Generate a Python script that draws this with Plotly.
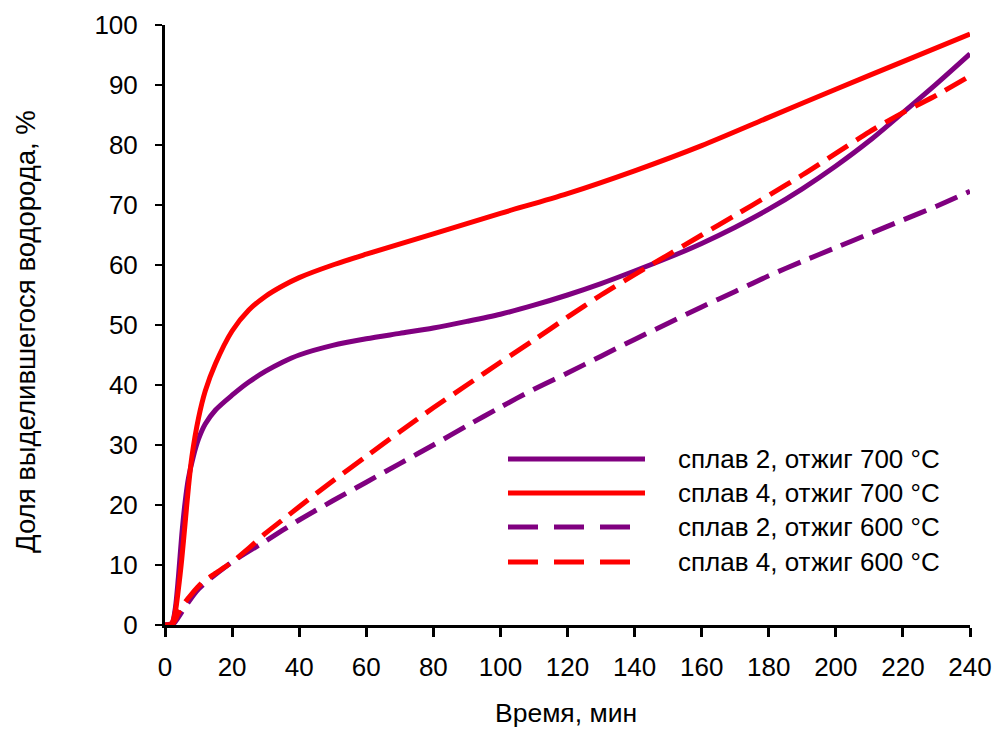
import plotly.graph_objects as go

# ---- data ----
t_s2_700 = [0, 2, 3, 4, 5, 6, 7, 8.4, 10, 12, 15, 20, 25, 30, 35, 40, 50, 60, 70, 80, 90,
            100, 110, 120, 130, 140, 150, 160, 170, 180, 190, 200, 210, 220, 230, 240]
v_s2_700 = [0, 0.2, 2.5, 8, 15, 20.5, 24.5, 28, 31, 33.5, 35.8, 38.3, 40.5, 42.3, 43.8, 45, 46.6, 47.7, 48.6, 49.5, 50.6,
            51.8, 53.3, 55, 56.9, 59, 61.2, 63.6, 66.3, 69.3, 72.7, 76.5, 80.7, 85.4, 90.2, 95.2]

t_s4_700 = [0, 2, 3, 4, 5, 6, 7, 8, 10, 12, 15, 20, 25, 30, 35, 40, 50, 60, 80,
            100, 120, 140, 160, 180, 200, 220, 240]
v_s4_700 = [0, 0.3, 2, 6, 11, 17, 23, 28, 34.5, 39, 43.5, 49, 52.5, 54.8, 56.5, 57.9, 60, 61.8, 65.2,
            68.6, 71.9, 75.7, 79.9, 84.6, 89.3, 93.9, 98.5]

t_s2_600 = [0, 2, 3, 6, 10, 20, 30, 40, 50, 60, 70, 80, 90, 100, 110, 120, 130, 140, 150,
            160, 170, 180, 190, 200, 210, 220, 230, 240]
v_s2_600 = [0, 0, 0.5, 3, 6, 10.5, 14, 17.5, 20.7, 23.8, 26.9, 30, 33.2, 36.3, 39.3, 42, 44.8, 47.6, 50.3,
            53, 55.6, 58.2, 60.6, 62.9, 65.2, 67.5, 69.8, 72.3]

t_s4_600 = [0, 2, 3, 4, 6, 8, 11, 15, 20, 25, 30, 35, 40, 50, 60, 70, 80, 90, 100, 110, 120,
            130, 140, 150, 160, 170, 180, 190, 200, 210, 220, 230, 240]
v_s4_600 = [0, 0, 0.8, 2, 3.8, 5.2, 7, 8.6, 10.5, 12.8, 15.3, 17.5, 19.7, 24, 28.1, 32.2, 36.2, 40, 43.8, 47.5, 51.3,
            55, 58.4, 61.7, 65, 68.3, 71.6, 75, 78.6, 82.2, 85.4, 88.3, 91.5]

names = ["сплав 2, отжиг 700 °C", "сплав 4, отжиг 700 °C",
         "сплав 2, отжиг 600 °C", "сплав 4, отжиг 600 °C"]
x_title = "Время, мин"
y_title = "Доля выделившегося водорода, %"
x_ticks = list(range(0, 241, 20))
y_ticks = list(range(0, 101, 10))

PURPLE = "#800080"
RED = "#FF0000"
FONT = "Arial, Liberation Sans, sans-serif"

series = [
    (t_s2_700, v_s2_700, PURPLE, "solid"),
    (t_s4_700, v_s4_700, RED, "solid"),
    (t_s2_600, v_s2_600, PURPLE, "24px,10px"),
    (t_s4_600, v_s4_600, RED, "24px,10px"),
]

fig = go.Figure()
for (tx, vy, col, dash), nm in zip(series, names):
    fig.add_trace(go.Scatter(x=tx, y=vy, mode="lines", name=nm,
                             line=dict(color=col, width=5, dash=dash, shape="spline", smoothing=0.8),
                             showlegend=False))

W, H = 995, 729
PLOT_L, PLOT_R, PLOT_T, PLOT_B = 165, 970, 25, 625   # window pixels of the plot area
L, T = PLOT_L, PLOT_T
R = W - PLOT_R
B = H - PLOT_B
pw, ph = PLOT_R - PLOT_L, PLOT_B - PLOT_T

def px(xp):
    return (xp - PLOT_L) / pw

def py(yp):
    return (PLOT_B - yp) / ph

# manual legend (long line samples as in the reference)
leg_rows = [459, 493, 527, 562]
shapes = []
annotations = []
for i, ((tx, vy, col, dash), nm) in enumerate(zip(series, names)):
    y = py(leg_rows[i])
    if dash == "solid":
        shapes.append(dict(type="line", xref="paper", yref="paper", x0=px(508), x1=px(645), y0=y, y1=y,
                           line=dict(color=col, width=5)))
    else:
        for s in (508, 554, 600):
            shapes.append(dict(type="line", xref="paper", yref="paper", x0=px(s), x1=px(s + 30), y0=y, y1=y,
                               line=dict(color=col, width=5)))
    annotations.append(dict(xref="paper", yref="paper", x=px(676), y=y, text=nm, showarrow=False,
                            xanchor="left", yanchor="middle", font=dict(family=FONT, size=26, color="black")))

# axis titles
annotations.append(dict(xref="paper", yref="paper", x=px(566), y=py(713), text=x_title, showarrow=False,
                        xanchor="center", yanchor="middle", font=dict(family=FONT, size=26.5, color="black")))
annotations.append(dict(xref="paper", yref="paper", x=px(25), y=py(332), text=y_title, showarrow=False,
                        textangle=-90, xanchor="center", yanchor="middle",
                        font=dict(family=FONT, size=27.5, color="black")))

fig.update_layout(
    width=W, height=H,
    margin=dict(l=L, r=R, t=T, b=B),
    plot_bgcolor="white", paper_bgcolor="white",
    font=dict(family=FONT, size=26, color="black"),
    shapes=shapes, annotations=annotations,
    showlegend=False,
)
fig.update_xaxes(range=[0, 240], tickvals=x_ticks, ticktext=[str(v) for v in x_ticks],
                 showgrid=False, zeroline=False, showline=True, linecolor="black", linewidth=3,
                 ticks="outside", ticklen=9, tickwidth=3, tickcolor="black", automargin=False,
                 ticklabelstandoff=8, tickfont=dict(size=26, family=FONT))
fig.update_yaxes(range=[0, 100], tickvals=y_ticks, ticktext=[str(v) for v in y_ticks],
                 showgrid=False, zeroline=False, showline=True, linecolor="black", linewidth=3,
                 ticks="outside", ticklen=7, tickwidth=2, tickcolor="black", automargin=False,
                 ticklabelstandoff=12, tickfont=dict(size=26, family=FONT))

# remove the default page margin so the figure fills the window exactly
fig.write_html("out.html", config={"displayModeBar": False},
               post_script="document.body.style.margin='0';document.body.style.overflow='hidden';")
